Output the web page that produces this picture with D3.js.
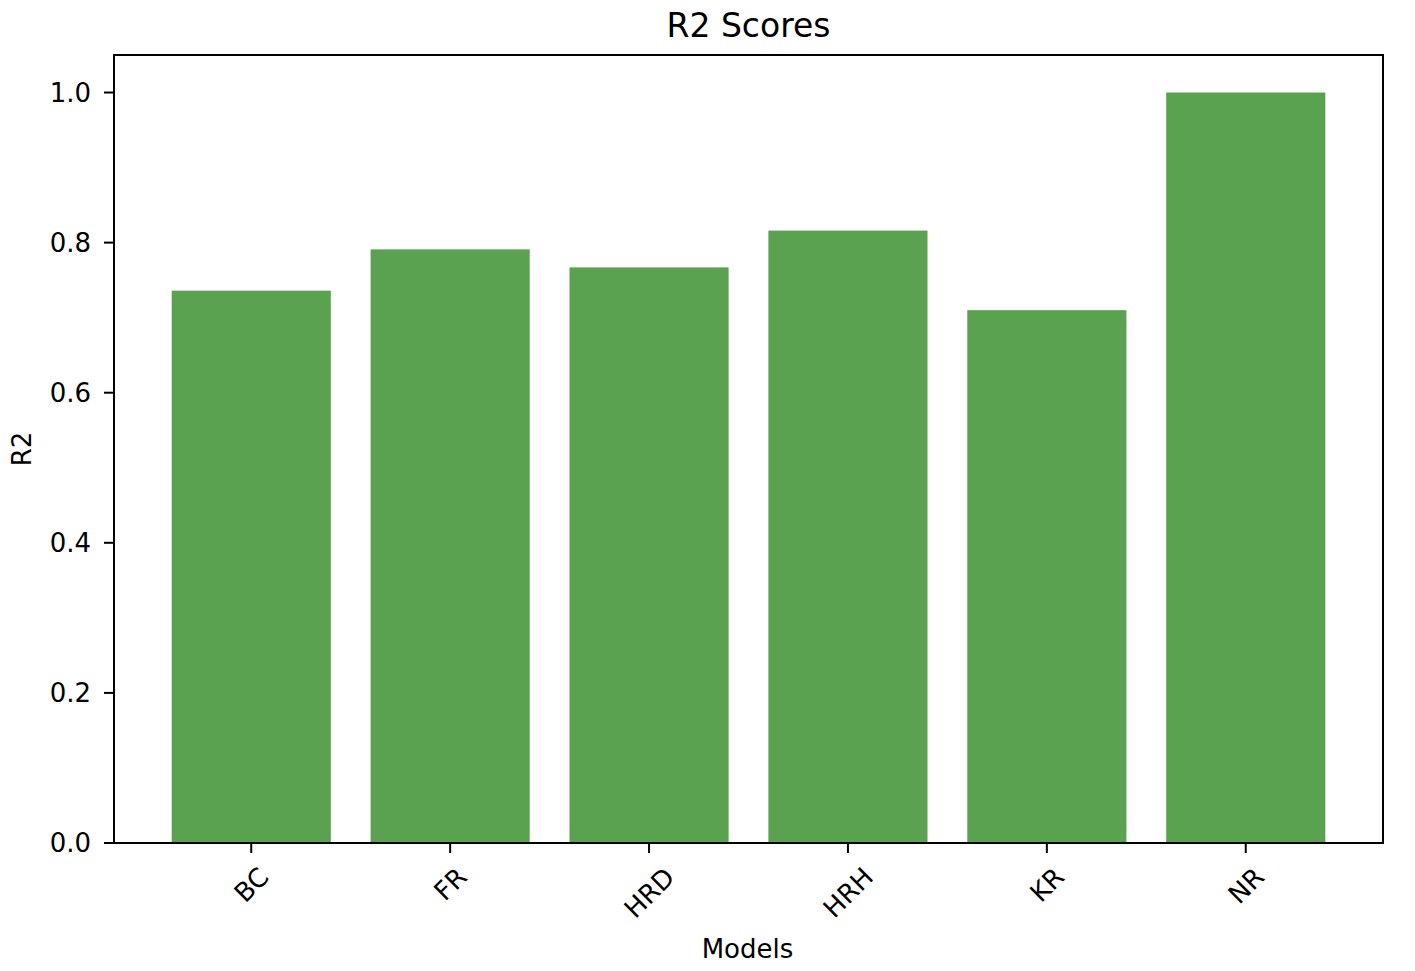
<!DOCTYPE html>
<html>
<head>
<meta charset="utf-8">
<script src="https://cdn.jsdelivr.net/npm/d3@7"></script>
<style>
  body { margin: 0; background: #fff; }
  text { font-family: "DejaVu Sans", sans-serif; fill: #000; }
</style>
</head>
<body>
<div id="chart"></div>
<script>
// data
var models = ['BC', 'FR', 'HRD', 'HRH', 'KR', 'NR']
var r2 = [0.736, 0.791, 0.767, 0.816, 0.710, 1.0]
var yTicks = [0.0, 0.2, 0.4, 0.6, 0.8, 1.0]

var width = 1415, height = 971
// plot box (note: "top" is taken by window.top, so use other names)
var plotLeft = 114, plotRight = 1383, plotTop = 55, plotBottom = 843
var tickFont = 26

var svg = d3.select('#chart').append('svg')
    .attr('width', width)
    .attr('height', height)

// matplotlib style: bar width 0.8, 5% margins
var x = d3.scaleLinear().domain([-0.69, models.length - 1 + 0.69]).range([plotLeft, plotRight])
var y = d3.scaleLinear().domain([0, 1.05]).range([plotBottom, plotTop])

svg.selectAll('rect.bar')
    .data(r2)
    .enter().append('rect')
      .attr('class', 'bar')
      .attr('x', function(d, i) { return x(i - 0.4) })
      .attr('width', function(d, i) { return x(i + 0.4) - x(i - 0.4) })
      .attr('y', function(d) { return y(d) })
      .attr('height', function(d) { return y(0) - y(d) })
      .attr('fill', '#5aa150')

// frame
svg.append('rect')
    .attr('x', plotLeft).attr('y', plotTop)
    .attr('width', plotRight - plotLeft).attr('height', plotBottom - plotTop)
    .attr('fill', 'none')
    .attr('stroke', '#000')
    .attr('stroke-width', 2)

// y ticks
var yg = svg.append('g')
yg.selectAll('line')
    .data(yTicks)
    .enter().append('line')
      .attr('x1', plotLeft - 10).attr('x2', plotLeft)
      .attr('y1', function(d) { return y(d) })
      .attr('y2', function(d) { return y(d) })
      .attr('stroke', '#000').attr('stroke-width', 2)
yg.selectAll('text')
    .data(yTicks)
    .enter().append('text')
      .attr('x', plotLeft - 23)
      .attr('y', function(d) { return y(d) })
      .attr('dy', '0.36em')
      .attr('text-anchor', 'end')
      .style('font-size', tickFont + 'px')
      .text(function(d) { return d3.format('.1f')(d) })

// x ticks
var xg = svg.append('g')
xg.selectAll('line')
    .data(models)
    .enter().append('line')
      .attr('x1', function(d, i) { return x(i) })
      .attr('x2', function(d, i) { return x(i) })
      .attr('y1', plotBottom).attr('y2', plotBottom + 10)
      .attr('stroke', '#000').attr('stroke-width', 2)

// rotated labels: rotated box is centred on the tick, its top sits below the tick
var labelTop = plotBottom + 19
xg.selectAll('text')
    .data(models)
    .enter().append('text')
      .style('font-size', tickFont + 'px')
      .attr('text-anchor', 'middle')
      .attr('dy', '0.36em')
      .text(function(d) { return d })
      .attr('transform', function(d, i) {
        var w = this.getComputedTextLength()
        var h = tickFont * 1.1
        var boxH = (w + h) * Math.SQRT1_2
        return 'translate(' + x(i) + ',' + (labelTop + boxH / 2) + ') rotate(-45)'
      })

// title and axis labels
svg.append('text')
    .attr('x', (plotLeft + plotRight) / 2)
    .attr('y', 37)
    .attr('text-anchor', 'middle')
    .style('font-size', '33px')
    .text('R2 Scores')

svg.append('text')
    .attr('transform', 'translate(31,' + ((plotTop + plotBottom) / 2) + ') rotate(-90)')
    .attr('text-anchor', 'middle')
    .style('font-size', tickFont + 'px')
    .text('R2')

svg.append('text')
    .attr('x', (plotLeft + plotRight) / 2 - 1)
    .attr('y', 958)
    .attr('text-anchor', 'middle')
    .style('font-size', tickFont + 'px')
    .text('Models')
</script>
</body>
</html>
